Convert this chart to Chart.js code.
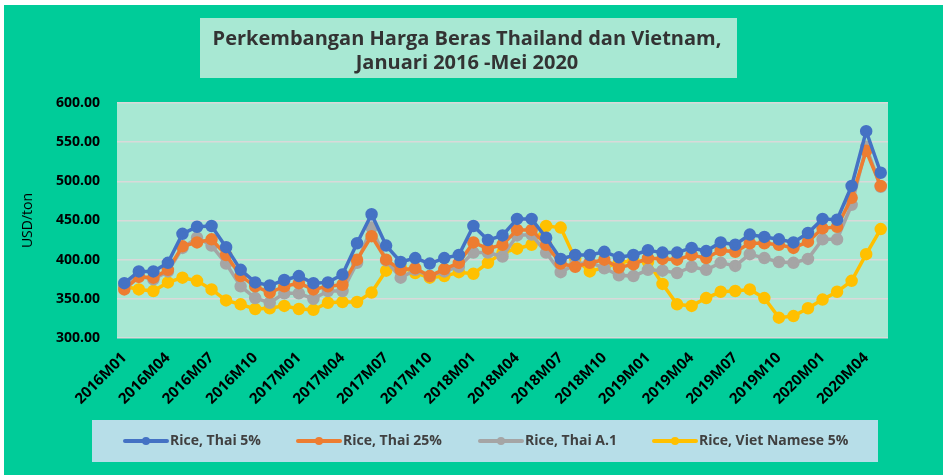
<!DOCTYPE html>
<html>
<head>
<meta charset="utf-8">
<script src="https://cdn.jsdelivr.net/npm/chart.js@4.4.0/dist/chart.umd.min.js"></script>
<style>
  html, body { margin: 0; padding: 0; background: #fff; }
  #wrap { width: 943px; height: 475px; }
</style>
</head>
<body>
<div id="wrap"><canvas id="rice-chart" width="943" height="475"></canvas></div>
<script>
// bulan 2016M01 .. 2020M05
const labels = [];
for (let y = 2016; y <= 2020; y++) {
  for (let m = 1; m <= 12; m++) {
    if (y === 2020 && m > 5) break;
    labels.push(y + 'M' + String(m).padStart(2, '0'));
  }
}

const thai5 = [
  370, 385, 385, 396, 433, 442, 443, 416, 387, 371, 367, 374,
  379, 370, 371, 381, 421, 458, 418, 397, 402, 395, 402, 406,
  443, 425, 431, 452, 452, 428, 401, 406, 406, 410, 403, 406,
  412, 409, 409, 415, 411, 422, 419, 432, 429, 426, 422, 434,
  452, 451, 494, 564, 511
];
const thai25 = [
  362, 378, 377, 387, 417, 422, 426, 406, 379, 366, 358, 366,
  370, 362, 366, 368, 400, 430, 400, 387, 389, 379, 388, 396,
  422, 414, 419, 438, 438, 419, 395, 391, 396, 400, 390, 394,
  402, 401, 400, 406, 402, 412, 410, 421, 421, 419, 415, 423,
  440, 442, 479, 539, 494
];
const thaiA1 = [
  366, 379, 375, 385, 415, 428, 418, 395, 366, 351, 345, 357,
  357, 350, 360, 360, 396, 441, 399, 377, 387, 379, 385, 391,
  409, 409, 404, 431, 432, 409, 384, 394, 397, 389, 380, 379,
  387, 386, 383, 391, 387, 396, 392, 407, 402, 397, 396, 401,
  426, 426, 470, 544, 493
];
const viet5 = [
  366, 362, 360, 371, 377, 373, 362, 348, 343, 337, 338, 341,
  337, 336, 345, 346, 346, 358, 386, 391, 383, 377, 379, 384,
  382, 396, 409, 414, 419, 443, 441, 401, 385, 390, 396, 399,
  397, 369, 343, 341, 351, 359, 360, 362, 351, 326, 328, 338,
  349, 359, 373, 407, 439
];

const seriesNames = ['Rice, Thai 5%', 'Rice, Thai 25%', 'Rice, Thai A.1', 'Rice, Viet Namese 5%'];
const seriesColors = ['#4472C4', '#ED7D31', '#A5A5A5', '#FFC000'];
const yTicks = [300, 350, 400, 450, 500, 550, 600];

const FONT = "'Open Sans', 'DejaVu Sans', sans-serif";

function makeSet(i, data) {
  return {
    label: seriesNames[i],
    data: data,
    borderColor: seriesColors[i],
    backgroundColor: seriesColors[i],
    pointBackgroundColor: seriesColors[i],
    pointBorderColor: seriesColors[i],
    borderWidth: 3.5,
    pointRadius: 4.5,
    pointHoverRadius: 4.5,
    tension: 0,
    fill: false
  };
}

// kotak latar, judul dan legenda
const decor = {
  id: 'decor',
  beforeDraw(chart) {
    const c = chart.ctx;
    const a = chart.chartArea;
    c.save();
    c.fillStyle = '#ffffff';
    c.fillRect(0, 0, chart.width, chart.height);
    c.fillStyle = '#00CC99';
    c.fillRect(4, 5, chart.width - 4, chart.height - 5);
    // judul
    c.fillStyle = '#A8E8D3';
    c.fillRect(200, 18, 537, 60);
    c.fillStyle = '#333333';
    c.font = 'bold 20px ' + FONT;
    c.textAlign = 'center';
    c.textBaseline = 'alphabetic';
    c.fillText('Perkembangan Harga Beras Thailand dan Vietnam,', 467, 45);
    c.fillText('Januari 2016 -Mei 2020', 467, 69);
    // area plot
    c.fillStyle = '#A8E8D3';
    c.fillRect(a.left, a.top, a.right - a.left, a.bottom - a.top);
    // legenda
    c.fillStyle = '#B7DEE8';
    c.fillRect(92, 420, 786, 42);
    c.restore();
  },
  afterDraw(chart) {
    const c = chart.ctx;
    const xs = [125, 298, 480, 654];
    const y = 441;
    c.save();
    chart.data.datasets.forEach((ds, i) => {
      const x = xs[i];
      c.strokeStyle = ds.borderColor;
      c.lineWidth = 4;
      c.lineCap = 'round';
      c.beginPath();
      c.moveTo(x, y);
      c.lineTo(x + 42, y);
      c.stroke();
      c.fillStyle = ds.borderColor;
      c.beginPath();
      c.arc(x + 21, y, 4, 0, Math.PI * 2);
      c.fill();
      c.fillStyle = '#404040';
      c.font = 'bold 14px ' + FONT;
      c.textAlign = 'left';
      c.textBaseline = 'middle';
      c.fillText(ds.label, x + 45, y);
    });
    c.restore();
  }
};

const ctx = document.getElementById('rice-chart').getContext('2d');
const riceChart = new Chart(ctx, {
  type: 'line',
  data: {
    labels: labels,
    datasets: [
      makeSet(0, thai5),
      makeSet(1, thai25),
      makeSet(2, thaiA1),
      makeSet(3, viet5)
    ]
  },
  options: {
    responsive: false,
    animation: false,
    layout: { padding: { top: 103, right: 55, left: 0, bottom: 55 } },
    plugins: {
      legend: { display: false },
      title: { display: false },
      tooltip: { enabled: false }
    },
    scales: {
      x: {
        offset: true,
        grid: { display: false, drawTicks: false },
        border: { display: false },
        ticks: {
          autoSkip: false,
          maxRotation: 45,
          minRotation: 45,
          padding: 11,
          color: '#000',
          font: { family: FONT, size: 15, weight: 'bold' },
          callback: function (v, i) { return i % 3 === 0 ? labels[i] : ''; }
        },
        afterFit(scale) { scale.height = 82; }
      },
      y: {
        min: 300,
        max: 600,
        afterBuildTicks(scale) { scale.ticks = yTicks.map(v => ({ value: v })); },
        grid: { color: '#D9D9D9', lineWidth: 1.5, drawTicks: false },
        border: { display: false },
        ticks: {
          padding: 17,
          color: '#000',
          font: { family: FONT, size: 14, weight: 'bold' },
          callback: v => v.toFixed(2)
        },
        title: {
          display: true,
          text: 'USD/ton',
          color: '#000',
          padding: { top: 20, bottom: 0 },
          font: { family: FONT, size: 14 }
        },
        afterFit(scale) { scale.width = 117; }
      }
    }
  },
  plugins: [decor]
});
</script>
</body>
</html>
